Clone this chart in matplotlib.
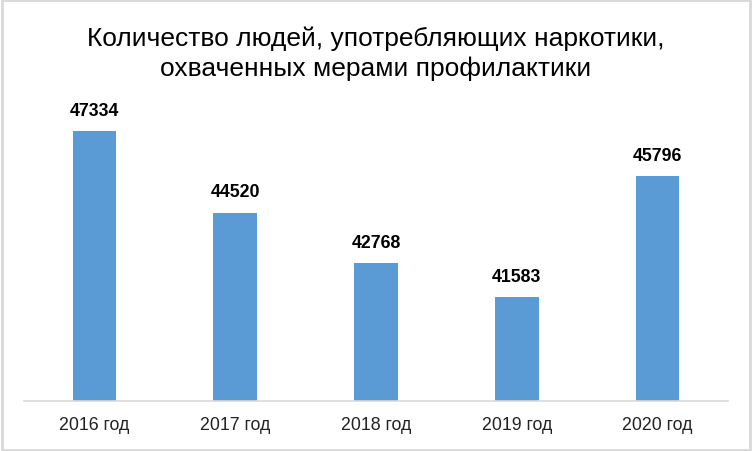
import numpy as np
import matplotlib.pyplot as plt
from matplotlib.patches import Rectangle

years = ['2016 год', '2017 год', '2018 год', '2019 год', '2020 год']
people = [47334, 44520, 42768, 41583, 45796]
title = 'Количество людей, употребляющих наркотики,\nохваченных мерами профилактики'

plt.rcParams['font.family'] = ['Liberation Sans', 'DejaVu Sans']

fig = plt.figure(figsize=(7.52, 4.52), dpi=100)
ax = fig.add_axes([24 / 752, 1 - 402 / 452, 704 / 752, (402 - 113) / 452])

x = np.arange(len(years))
ax.bar(x, people, width=0.31, color='#5B9BD5', zorder=2)
ax.set_ylim(38000, 48000)
ax.set_xlim(-0.5, len(years) - 0.5)

for xi, v in zip(x, people):
    ax.text(xi, v + 420, str(v), ha='center', va='bottom',
            fontsize=12.8, fontweight='bold', color='black')

ax.set_xticks(x)
ax.set_xticklabels(years, fontsize=12.8, color='#222222')
ax.tick_params(axis='x', length=0, pad=11)
ax.set_yticks([])
for s in ['left', 'right', 'top']:
    ax.spines[s].set_visible(False)
ax.spines['bottom'].set_color('#D9D9D9')
ax.spines['bottom'].set_linewidth(1.2)

fig.text(0.5, 1 - 54 / 452, title, ha='center', va='center',
         fontsize=19, linespacing=1.3, color='black')

fig.patches.append(Rectangle((0.002, 0.003), 0.996, 0.994, transform=fig.transFigure,
                             fill=False, edgecolor='#D9D9D9', linewidth=2))

fig.savefig('out.png', dpi=100)
